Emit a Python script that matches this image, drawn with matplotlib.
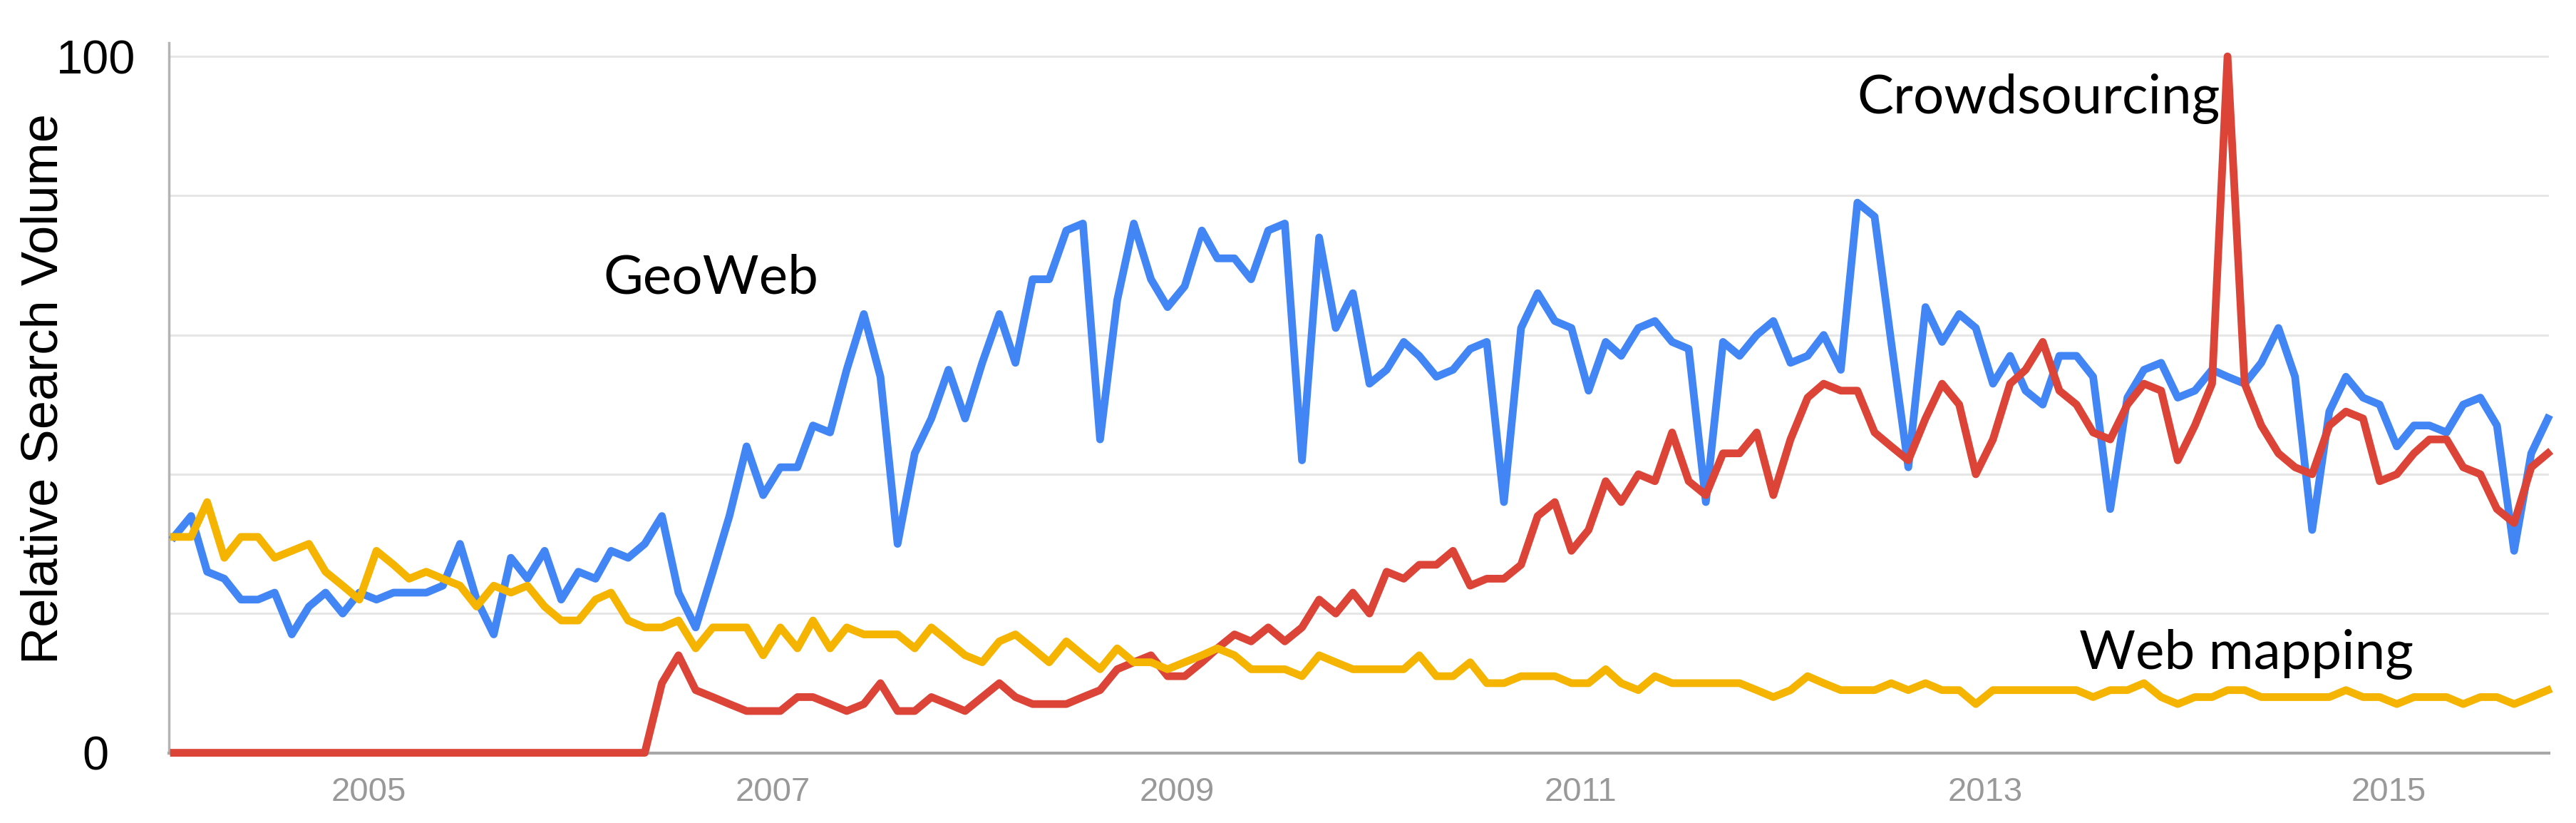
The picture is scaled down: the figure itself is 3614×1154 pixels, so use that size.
import matplotlib
matplotlib.use("Agg")
import matplotlib.pyplot as plt
import matplotlib.dates as mdates
import pandas as pd

# ── data (monthly relative search volume, Jan 2004 – Oct 2015) ────────────────

start_month = "2004-01"

geoweb = [
    31, 34, 26, 25, 22, 22, 23, 17, 21, 23, 20, 23,
    22, 23, 23, 23, 24, 30, 22, 17, 28, 25, 29, 22,
    26, 25, 29, 28, 30, 34, 23, 18, 26, 34, 44, 37,
    41, 41, 47, 46, 55, 63, 54, 30, 43, 48, 55, 48,
    56, 63, 56, 68, 68, 75, 76, 45, 65, 76, 68, 64,
    67, 75, 71, 71, 68, 75, 76, 42, 74, 61, 66, 53,
    55, 59, 57, 54, 55, 58, 59, 36, 61, 66, 62, 61,
    52, 59, 57, 61, 62, 59, 58, 36, 59, 57, 60, 62,
    56, 57, 60, 55, 79, 77, 59, 41, 64, 59, 63, 61,
    53, 57, 52, 50, 57, 57, 54, 35, 51, 55, 56, 51,
    52, 55, 54, 53, 56, 61, 54, 32, 49, 54, 51, 50,
    44, 47, 47, 46, 50, 51, 47, 29, 43, 48,
]

crowdsourcing = [
    0, 0, 0, 0, 0, 0, 0, 0, 0, 0, 0, 0,
    0, 0, 0, 0, 0, 0, 0, 0, 0, 0, 0, 0,
    0, 0, 0, 0, 0, 10, 14, 9, 8, 7, 6, 6,
    6, 8, 8, 7, 6, 7, 10, 6, 6, 8, 7, 6,
    8, 10, 8, 7, 7, 7, 8, 9, 12, 13, 14, 11,
    11, 13, 15, 17, 16, 18, 16, 18, 22, 20, 23, 20,
    26, 25, 27, 27, 29, 24, 25, 25, 27, 34, 36, 29,
    32, 39, 36, 40, 39, 46, 39, 37, 43, 43, 46, 37,
    45, 51, 53, 52, 52, 46, 44, 42, 48, 53, 50, 40,
    45, 53, 55, 59, 52, 50, 46, 45, 50, 53, 52, 42,
    47, 53, 100, 53, 47, 43, 41, 40, 47, 49, 48, 39,
    40, 43, 45, 45, 41, 40, 35, 33, 41, 43,
]

web_mapping = [
    31, 31, 36, 28, 31, 31, 28, 29, 30, 26, 24, 22,
    29, 27, 25, 26, 25, 24, 21, 24, 23, 24, 21, 19,
    19, 22, 23, 19, 18, 18, 19, 15, 18, 18, 18, 14,
    18, 15, 19, 15, 18, 17, 17, 17, 15, 18, 16, 14,
    13, 16, 17, 15, 13, 16, 14, 12, 15, 13, 13, 12,
    13, 14, 15, 14, 12, 12, 12, 11, 14, 13, 12, 12,
    12, 12, 14, 11, 11, 13, 10, 10, 11, 11, 11, 10,
    10, 12, 10, 9, 11, 10, 10, 10, 10, 10, 9, 8,
    9, 11, 10, 9, 9, 9, 10, 9, 10, 9, 9, 7,
    9, 9, 9, 9, 9, 9, 8, 9, 9, 10, 8, 7,
    8, 8, 9, 9, 8, 8, 8, 8, 8, 9, 8, 8,
    7, 8, 8, 8, 7, 8, 8, 7, 8, 9,
]

year_ticks = [2005, 2007, 2009, 2011, 2013, 2015]
y_grid = [0, 20, 40, 60, 80, 100]
y_labels = ["0", "", "", "", "", "100"]

# ── styling ───────────────────────────────────────────────────────────────────

BLUE = "#4285F4"
RED = "#DB4437"
YELLOW = "#F4B400"

# points sit mid-month, year labels sit on Jan 1
dates = pd.date_range(start_month, periods=len(geoweb), freq="MS") + pd.Timedelta(days=14)

fig = plt.figure(figsize=(36.14, 11.54), dpi=100)
ax = fig.add_axes([0.0656, 0.0853, 0.9239, 0.8631])

lw = 7.8
ax.plot(dates, geoweb, color=BLUE, linewidth=lw, clip_on=False, zorder=3)
ax.plot(dates, crowdsourcing, color=RED, linewidth=lw, clip_on=False, zorder=4)
ax.plot(dates, web_mapping, color=YELLOW, linewidth=lw, clip_on=False, zorder=5)

ax.set_xlim(dates[0] - pd.Timedelta(days=9), dates[-1] + pd.Timedelta(days=2))
ax.set_ylim(0, 102)

# grid + axes
ax.set_yticks(y_grid)
ax.set_yticklabels(y_labels)
ax.grid(axis="y", color="#e6e6e6", linewidth=2.2, zorder=0)
ax.grid(axis="x", visible=False)
ax.set_axisbelow(True)

for side in ("top", "right"):
    ax.spines[side].set_visible(False)
ax.spines["bottom"].set_color("#a8a8a8")
ax.spines["bottom"].set_linewidth(3)
ax.spines["left"].set_color("#b4b4b4")
ax.spines["left"].set_linewidth(2.5)

ax.tick_params(axis="y", length=0, pad=74, labelsize=48)
for lbl in ax.get_yticklabels():
    lbl.set_horizontalalignment("center")
    lbl.set_fontfamily("Liberation Sans")

ax.set_xticks([pd.Timestamp(f"{y}-01-01") for y in year_ticks])
ax.xaxis.set_major_formatter(mdates.DateFormatter("%Y"))
ax.tick_params(axis="x", length=0, pad=24, labelsize=34, labelcolor="#999999")
for lbl in ax.get_xticklabels():
    lbl.set_fontfamily("Liberation Sans")

fig.text(0.0172, 0.5277, "Relative Search Volume", rotation=90,
         ha="center", va="center", fontsize=52, family="Liberation Sans")

# series labels
label_font = dict(fontsize=55, family="Lato", color="black", va="baseline", ha="left")
ax.text(pd.Timestamp("2006-03-01"), 66, "GeoWeb", **label_font)
ax.text(pd.Timestamp("2012-05-15"), 91.8, "Crowdsourcing", **label_font)
ax.text(pd.Timestamp("2013-06-20"), 12.0, "Web mapping", **label_font)

fig.savefig("out.png", dpi=100)
